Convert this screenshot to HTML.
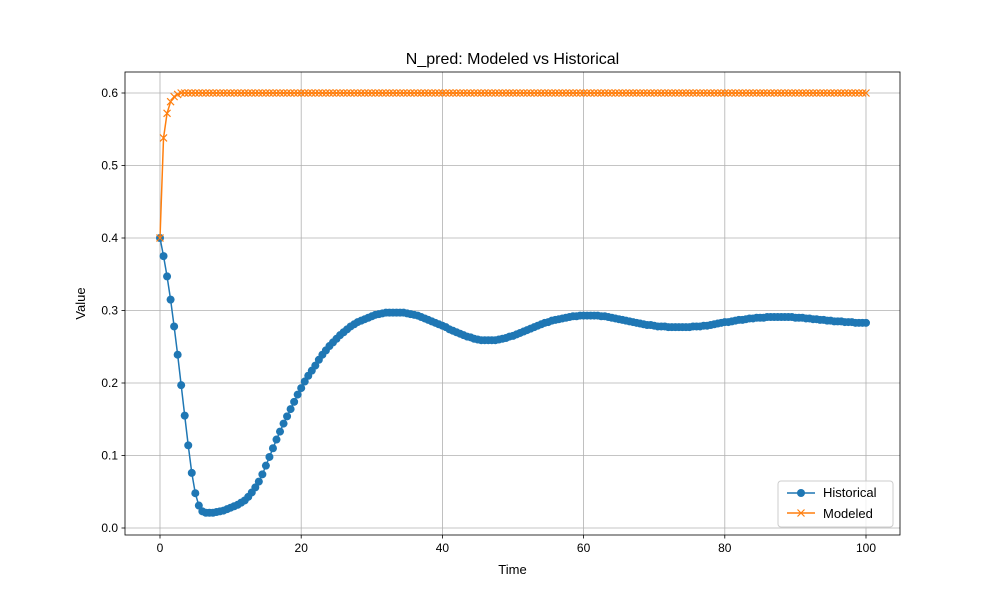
<!DOCTYPE html>
<html><head><meta charset="utf-8"><style>body{margin:0;background:#fff}svg text{font-family:"Liberation Sans","DejaVu Sans",sans-serif}</style></head>
<body>
<svg id="chart" width="1000" height="600" xmlns="http://www.w3.org/2000/svg"></svg>
<script>
const times = [];
for (let i = 0; i <= 200; i++) times.push(i * 0.5);
const historical = [0.4,0.375,0.347,0.315,0.278,0.239,0.197,0.155,0.114,0.076,0.048,0.031,0.023,0.021,0.021,0.021,0.022,0.023,0.024,0.026,
0.028,0.030,0.032,0.035,0.038,0.043,0.049,0.056,0.064,0.074,0.086,0.098,0.110,0.122,0.133,0.144,0.154,0.164,0.174,0.184,
0.193,0.202,0.210,0.217,0.224,0.232,0.239,0.245,0.251,0.256,0.261,0.266,0.270,0.274,0.278,0.281,0.284,0.286,0.288,0.290,
0.292,0.294,0.295,0.296,0.297,0.297,0.297,0.297,0.297,0.297,0.296,0.295,0.294,0.293,0.291,0.289,0.287,0.285,0.283,0.281,
0.279,0.277,0.274,0.272,0.270,0.268,0.266,0.264,0.263,0.261,0.260,0.259,0.259,0.259,0.259,0.259,0.260,0.261,0.262,0.264,
0.265,0.267,0.269,0.271,0.273,0.275,0.277,0.279,0.281,0.283,0.284,0.286,0.287,0.288,0.289,0.290,0.291,0.292,0.292,0.293,
0.293,0.293,0.293,0.293,0.293,0.292,0.292,0.291,0.290,0.289,0.288,0.287,0.286,0.285,0.284,0.283,0.282,0.281,0.280,0.280,
0.279,0.278,0.278,0.278,0.277,0.277,0.277,0.277,0.277,0.277,0.277,0.278,0.278,0.278,0.279,0.279,0.280,0.281,0.282,0.283,
0.284,0.284,0.285,0.286,0.287,0.287,0.288,0.289,0.289,0.290,0.290,0.290,0.291,0.291,0.291,0.291,0.291,0.291,0.291,0.291,
0.290,0.290,0.290,0.289,0.289,0.288,0.288,0.287,0.287,0.286,0.286,0.285,0.285,0.285,0.284,0.284,0.284,0.283,0.283,0.283,0.283];
const modeled = [0.4,0.538,0.572,0.588,0.595,0.598,0.6,0.6,0.6,0.6,0.6,0.6,0.6,0.6,0.6,0.6,0.6,0.6,0.6,0.6,
0.6,0.6,0.6,0.6,0.6,0.6,0.6,0.6,0.6,0.6,0.6,0.6,0.6,0.6,0.6,0.6,0.6,0.6,0.6,0.6,
0.6,0.6,0.6,0.6,0.6,0.6,0.6,0.6,0.6,0.6,0.6,0.6,0.6,0.6,0.6,0.6,0.6,0.6,0.6,0.6,
0.6,0.6,0.6,0.6,0.6,0.6,0.6,0.6,0.6,0.6,0.6,0.6,0.6,0.6,0.6,0.6,0.6,0.6,0.6,0.6,
0.6,0.6,0.6,0.6,0.6,0.6,0.6,0.6,0.6,0.6,0.6,0.6,0.6,0.6,0.6,0.6,0.6,0.6,0.6,0.6,
0.6,0.6,0.6,0.6,0.6,0.6,0.6,0.6,0.6,0.6,0.6,0.6,0.6,0.6,0.6,0.6,0.6,0.6,0.6,0.6,
0.6,0.6,0.6,0.6,0.6,0.6,0.6,0.6,0.6,0.6,0.6,0.6,0.6,0.6,0.6,0.6,0.6,0.6,0.6,0.6,
0.6,0.6,0.6,0.6,0.6,0.6,0.6,0.6,0.6,0.6,0.6,0.6,0.6,0.6,0.6,0.6,0.6,0.6,0.6,0.6,
0.6,0.6,0.6,0.6,0.6,0.6,0.6,0.6,0.6,0.6,0.6,0.6,0.6,0.6,0.6,0.6,0.6,0.6,0.6,0.6,
0.6,0.6,0.6,0.6,0.6,0.6,0.6,0.6,0.6,0.6,0.6,0.6,0.6,0.6,0.6,0.6,0.6,0.6,0.6,0.6,0.6];
const xTicks = [0,20,40,60,80,100];
const yTicks = [0.0,0.1,0.2,0.3,0.4,0.5,0.6];
const yTickLabels = ["0.0","0.1","0.2","0.3","0.4","0.5","0.6"];

const svg = document.getElementById('chart');
const NS = 'http://www.w3.org/2000/svg';
const L=125,R=900,T=72,B=535;
const xs = v => 160 + v*(866-160)/100;
const ys = v => 528 - v*(528-93)/0.6;
function mk(tag, attrs, parent){const e=document.createElementNS(NS,tag);for(const k in attrs)e.setAttribute(k,attrs[k]);(parent||svg).appendChild(e);return e;}

const grid = mk('g',{});


xTicks.forEach(t=>{
  mk('line',{x1:xs(t),x2:xs(t),y1:T,y2:B,stroke:'#b0b0b0','stroke-width':0.8},grid);
  const tk=mk('line',{x1:xs(t),x2:xs(t),y1:B,y2:B+3.5,stroke:'#000','stroke-width':0.8});
  const lb=mk('text',{x:xs(t),y:B+17,'text-anchor':'middle','font-size':12});
  lb.textContent=t;
  
  
});
yTicks.forEach((t,i)=>{
  mk('line',{x1:L,x2:R,y1:ys(t),y2:ys(t),stroke:'#b0b0b0','stroke-width':0.8},grid);
  mk('line',{x1:L-3.5,x2:L,y1:ys(t),y2:ys(t),stroke:'#000','stroke-width':0.8});
  const lb=mk('text',{x:L-7,y:ys(t)+4,'text-anchor':'end','font-size':12});
  lb.textContent=yTickLabels[i];
  
  
});

function series(vals,color,name,marker){
  const g=mk('g',{});
  
  
  mk('polyline',{points:vals.map((v,i)=>xs(times[i])+','+ys(v)).join(' '),fill:'none',stroke:color,'stroke-width':1.5},g);
  vals.forEach((v,i)=>{
    const x=xs(times[i]),y=ys(v);
    if(marker==='o'){const c=mk('circle',{cx:x,cy:y,r:4,fill:color},g);}
    else{const p=mk('path',{d:`M${x-3.5},${y-3.5}L${x+3.5},${y+3.5}M${x-3.5},${y+3.5}L${x+3.5},${y-3.5}`,stroke:color,'stroke-width':1.2},g);}
  });
}
series(historical,'#1f77b4','historical-series','o');
series(modeled,'#ff7f0e','modeled-series','x');

const frame=mk('rect',{x:L,y:T,width:R-L,height:B-T,fill:'none',stroke:'#000','stroke-width':0.8});



const title=mk('text',{x:(L+R)/2,y:64,'text-anchor':'middle','font-size':16});
title.textContent='N_pred: Modeled vs Historical';


const xt=mk('text',{x:(L+R)/2,y:574,'text-anchor':'middle','font-size':13});
xt.textContent='Time';


const yt=mk('text',{x:85,y:(T+B)/2,'text-anchor':'middle','font-size':13,transform:`rotate(-90 85 ${(T+B)/2})`});
yt.textContent='Value';



const lg=mk('g',{});


mk('rect',{x:778,y:481,width:115,height:46,rx:3,fill:'#fff',stroke:'#ccc','fill-opacity':0.8},lg);
mk('line',{x1:787,x2:815,y1:493,y2:493,stroke:'#1f77b4','stroke-width':1.5},lg);
mk('circle',{cx:801,cy:493,r:4,fill:'#1f77b4'},lg);
const t1=mk('text',{x:823,y:497,'font-size':13},lg);t1.textContent='Historical';


mk('line',{x1:787,x2:815,y1:513,y2:513,stroke:'#ff7f0e','stroke-width':1.5},lg);
mk('path',{d:'M797.5,509.5L804.5,516.5M797.5,516.5L804.5,509.5',stroke:'#ff7f0e','stroke-width':1.2},lg);
const t2=mk('text',{x:823,y:518,'font-size':13},lg);t2.textContent='Modeled';


</script>
</body></html>
